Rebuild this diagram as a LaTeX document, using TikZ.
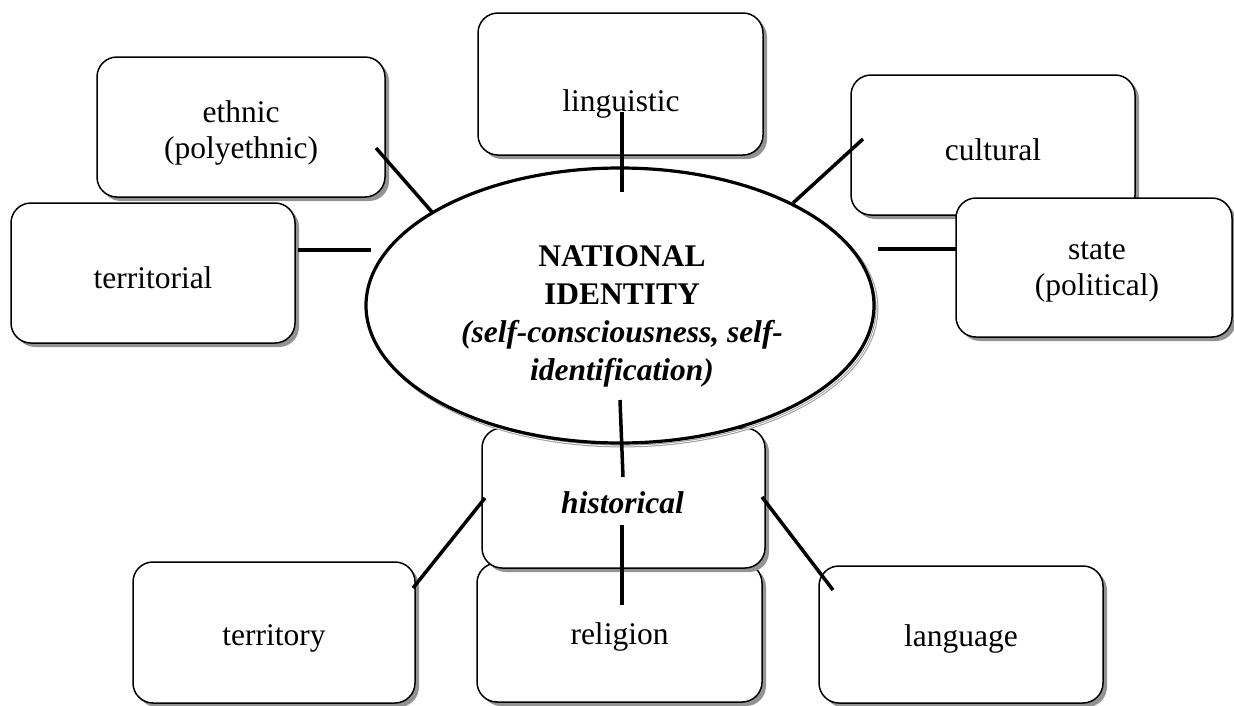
\documentclass[tikz,border=0pt]{standalone}
\usepackage{fontspec}
\setmainfont{Liberation Serif}
\usetikzlibrary{shapes.geometric,shadows}
\begin{document}
\begin{tikzpicture}[x=1pt,y=-1pt,
  txt/.style={font=\fontsize{31.5}{36}\selectfont, align=center, inner sep=0pt},
  box/.style={draw, line width=1.5pt, rounded corners=20pt, fill=white,
    drop shadow={shadow xshift=4pt, shadow yshift=-4pt, fill=gray!85, opacity=1},
    inner sep=0pt},
  boxtxt/.style={txt, yshift=-4.5pt},
  conn/.style={line width=3.5pt},
]
\useasboundingbox (0,0) rectangle (1234,705);

% upper boxes
\node[box, minimum width=288pt, minimum height=140pt] (ethnic) at (241,127) {};
\node[boxtxt, yshift=-1.5pt] (ethnic-t) at (ethnic.center) {ethnic\\(polyethnic)};
\node[box, minimum width=284pt, minimum height=140pt] (territorial) at (153,273) {};
\node[boxtxt] (territorial-t) at (territorial.center) {territorial};
\node[box, minimum width=285pt, minimum height=142pt] (linguistic) at (620.5,84) {};
\node[txt, anchor=base] (linguistic-t) at (621,111) {linguistic};
\node[box, minimum width=284pt, minimum height=140pt] (cultural) at (993,145) {};
\node[boxtxt] (cultural-t) at (cultural.center) {cultural};
\node[box, minimum width=276pt, minimum height=139pt] (state) at (1094,267.5) {};
\node[boxtxt, xshift=3pt] (state-t) at (state.center) {state\\(political)};

% lower boxes
\node[box, minimum width=285pt, minimum height=139pt] (religion) at (619.5,632.5) {};
\node[boxtxt] (religion-t) at (religion.center) {religion};
\node[box, minimum width=283pt, minimum height=140pt] (historical) at (623.5,498) {};
\node[boxtxt, font=\fontsize{31.5}{36}\selectfont\bfseries\itshape, xshift=-1pt] (historical-t) at (historical.center) {historical};
\node[box, minimum width=282pt, minimum height=141pt] (territory) at (274,632.5) {};
\node[boxtxt, yshift=-1.5pt] (territory-t) at (territory.center) {territory};
\node[box, minimum width=284pt, minimum height=137pt] (language) at (961,634.5) {};
\node[boxtxt] (language-t) at (language.center) {language};

% central ellipse with shadow
\node[ellipse, draw=gray!80, line width=1pt, double=white, double distance=0.8pt,
      minimum width=508pt, minimum height=275pt] (natsh) at (623,308.5) {};
\node[ellipse, draw, line width=3.2pt, fill=white,
      minimum width=508pt, minimum height=275pt] (nat) at (620,305.5) {};
\node[txt, font=\fontsize{31.5}{38}\selectfont\bfseries] (natt) at (622,316)
  {NATIONAL\\IDENTITY\\\itshape (self-consciousness, self-\\\itshape identification)};

% connector ends
\coordinate (c1a) at (376,148);  \coordinate (c1b) at (432,212);
\coordinate (c2a) at (622,112);  \coordinate (c2b) at (622,192);
\coordinate (c3a) at (863,139);  \coordinate (c3b) at (793,203);
\coordinate (c4a) at (298,250);  \coordinate (c4b) at (371,250);
\coordinate (c5a) at (878,249);  \coordinate (c5b) at (956,249);
\coordinate (c6a) at (620,400);  \coordinate (c6b) at (623,477);
\coordinate (c7a) at (622,525);  \coordinate (c7b) at (622,605);
\coordinate (c8a) at (485,498);  \coordinate (c8b) at (413,588);
\coordinate (c9a) at (762,497);  \coordinate (c9b) at (833,590);

\draw[conn] (c1a) -- (c1b);
\draw[conn] (c2a) -- (c2b);
\draw[conn] (c3a) -- (c3b);
\draw[conn] (c4a) -- (c4b);
\draw[conn] (c5a) -- (c5b);
\draw[conn] (c6a) -- (c6b);
\draw[conn] (c7a) -- (c7b);
\draw[conn] (c8a) -- (c8b);
\draw[conn] (c9a) -- (c9b);
\end{tikzpicture}
\end{document}
